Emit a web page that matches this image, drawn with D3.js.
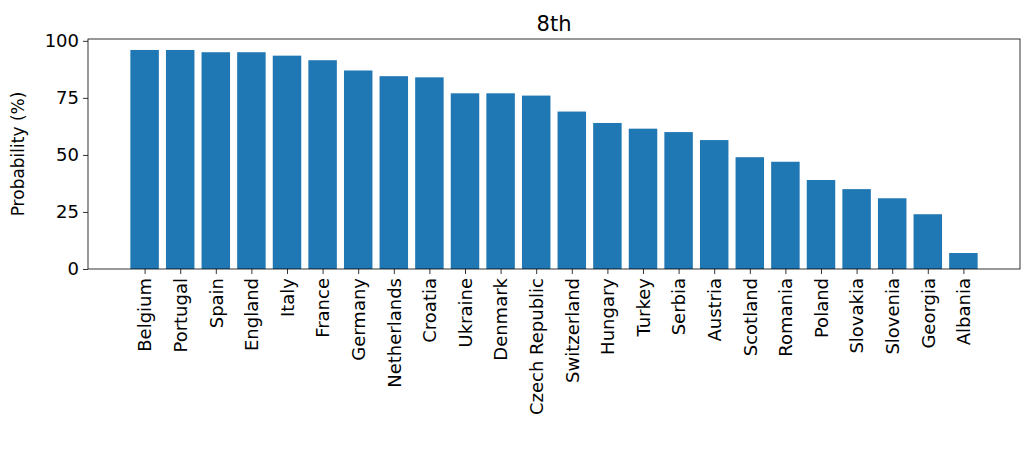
<!DOCTYPE html>
<html><head><meta charset="utf-8">
<script src="https://d3js.org/d3.v7.min.js"></script>
<style>body{margin:0;background:#fff}text{font-family:"DejaVu Sans",sans-serif}</style>
</head><body><svg id="c" width="1027" height="458"></svg>
<script>
const categories=["Belgium","Portugal","Spain","England","Italy","France","Germany","Netherlands","Croatia","Ukraine","Denmark","Czech Republic","Switzerland","Hungary","Turkey","Serbia","Austria","Scotland","Romania","Poland","Slovakia","Slovenia","Georgia","Albania"];
const values=[96,96,95,95,93.5,91.5,87,84.5,84,77,77,76,69,64,61.5,60,56.5,49,47,39,35,31,24,7];
const yTicks=[0,25,50,75,100];
const svg=d3.select("#c");
const L=88,R=1020,T=39,B=269;
const n=categories.length;
const x=d3.scaleLinear().domain([-0.4-0.05*(n-0.2),n-0.6+0.05*(n-0.2)]).range([L,R]);
const y=d3.scaleLinear().domain([0,d3.max(values)*1.05]).range([B,T]);
svg.selectAll("rect.b").data(values).join("rect").attr("class","b")
 .attr("x",(d,i)=>x(i-0.4)).attr("width",x(0.8)-x(0)).attr("y",d=>y(d)).attr("height",d=>B-y(d)).attr("fill","#1f77b4");
const ya=svg.append("g").attr("transform",`translate(${L},0)`).call(d3.axisLeft(y).tickValues(yTicks).tickSize(5).tickPadding(4));
ya.selectAll("text").style("font-size","18px").attr("fill","#000");
const xa=svg.append("g").attr("transform",`translate(0,${B})`).call(d3.axisBottom(x).tickValues(d3.range(n)).tickFormat(i=>categories[i]).tickSize(5));
xa.selectAll("text").style("font-size","18px").attr("fill","#000").attr("text-anchor","end").attr("transform","rotate(-90)").attr("dx","-9").attr("dy","0.35em").attr("x",0).attr("y",0);
[ya,xa].forEach(a=>{a.select(".domain").remove();a.selectAll("line").attr("stroke","#000").attr("stroke-width",0.8);});
svg.append("rect").attr("x",L).attr("y",T).attr("width",R-L).attr("height",B-T).attr("fill","none").attr("stroke","#000").attr("stroke-width",0.8);
svg.append("text").attr("x",(L+R)/2).attr("y",T-8).attr("text-anchor","middle").style("font-size","21px").text("8th");
svg.append("text").attr("transform",`translate(24,${(T+B)/2}) rotate(-90)`).attr("text-anchor","middle").style("font-size","17px").text("Probability (%)");
</script></body></html>
